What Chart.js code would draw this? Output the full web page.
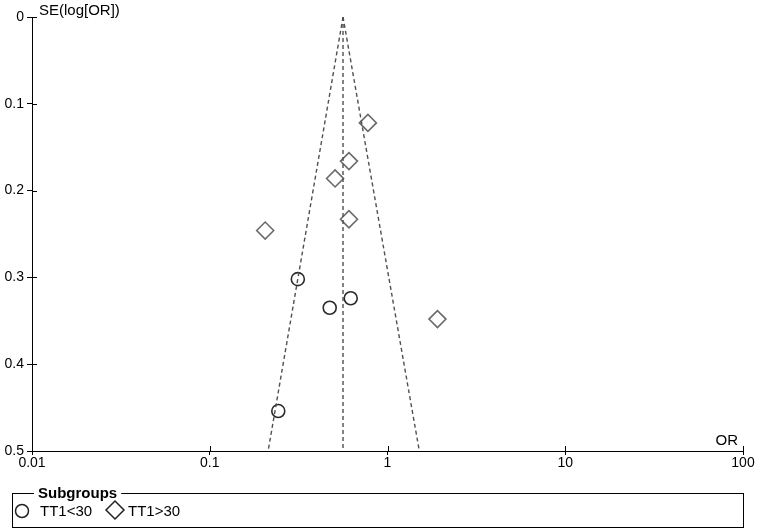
<!DOCTYPE html>
<html>
<head>
<meta charset="utf-8">
<script src="https://cdn.jsdelivr.net/npm/chart.js@4/dist/chart.umd.min.js"></script>
<style>
  body { margin: 0; background: #fff; }
  canvas { display: block; }
</style>
</head>
<body>
<canvas id="funnel" width="758" height="530"></canvas>
<script>
// values
var circleOR = [0.313, 0.473, 0.621, 0.243];
var circleSE = [0.302, 0.335, 0.324, 0.454];
var diamondOR = [0.776, 0.607, 0.507, 0.607, 0.205, 1.91];
var diamondSE = [0.122, 0.166, 0.186, 0.233, 0.246, 0.348];
var pooledOR = 0.562;
var funnelLowOR = 0.213;   // at SE 0.5
var funnelHighOR = 1.51;   // at SE 0.5
var xTicks = [0.01, 0.1, 1, 10, 100];
var yTicks = [0, 0.1, 0.2, 0.3, 0.4, 0.5];
var groupLabels = ['TT1<30', 'TT1>30'];

var FONT = '"Liberation Sans", Arial, sans-serif';
Chart.defaults.font.family = FONT;
Chart.defaults.font.size = 14;
Chart.defaults.color = '#000';

function pairs(xs, ys) {
  return xs.map(function (x, i) { return {x: x, y: ys[i]}; });
}

var dashed = {
  type: 'line', borderColor: '#505050', borderWidth: 1.4, borderDash: [4, 3],
  pointRadius: 0, fill: false, tension: 0
};

var extras = {
  id: 'extras',
  afterDraw: function (chart) {
    var ctx = chart.ctx, xs = chart.scales.x, ys = chart.scales.y;
    var a = chart.chartArea;
    ctx.save();
    // inner half of the crossing ticks
    ctx.strokeStyle = '#000';
    ctx.lineWidth = 1;
    ctx.beginPath();
    xTicks.forEach(function (v) {
      var px = Math.round(xs.getPixelForValue(v)) + 0.5;
      ctx.moveTo(px, a.bottom);
      ctx.lineTo(px, a.bottom - 5);
    });
    yTicks.forEach(function (v) {
      var py = Math.round(ys.getPixelForValue(v)) + 0.5;
      ctx.moveTo(a.left, py);
      ctx.lineTo(a.left + 5, py);
    });
    ctx.stroke();

    // axis titles
    ctx.fillStyle = '#000';
    ctx.font = '15px ' + FONT;
    ctx.textBaseline = 'alphabetic';
    ctx.textAlign = 'left';
    ctx.fillText('SE(log[OR])', a.left + 7, 15);
    ctx.textAlign = 'right';
    ctx.fillText('OR', a.right - 5, a.bottom - 6);

    // legend box
    var bx = 12.5, by = 493.5, bw = 731, bh = 34;
    ctx.strokeStyle = '#000';
    ctx.strokeRect(bx, by, bw, bh);
    ctx.font = 'bold 15px ' + FONT;
    ctx.textAlign = 'left';
    ctx.textBaseline = 'middle';
    var t = 'Subgroups';
    var tw = ctx.measureText(t).width;
    ctx.fillStyle = '#fff';
    ctx.fillRect(34, by - 3, tw + 8, 6);
    ctx.fillStyle = '#000';
    ctx.fillText(t, 38, by);

    ctx.font = '15px ' + FONT;
    ctx.lineWidth = 1.5;
    ctx.strokeStyle = '#222';
    // circle item
    ctx.beginPath();
    ctx.arc(22, 511, 6.5, 0, Math.PI * 2);
    ctx.stroke();
    ctx.fillText(groupLabels[0], 40, 512);
    // diamond item
    var dx = 115, dy = 510, r = 9;
    ctx.beginPath();
    ctx.moveTo(dx - r, dy); ctx.lineTo(dx, dy - r);
    ctx.lineTo(dx + r, dy); ctx.lineTo(dx, dy + r);
    ctx.closePath();
    ctx.stroke();
    ctx.fillText(groupLabels[1], 128, 512);
    ctx.restore();
  }
};

var funnelConfig = {
  type: 'scatter',
  data: {
    datasets: [
      Object.assign({}, dashed, {data: [{x: pooledOR, y: 0}, {x: pooledOR, y: 0.5}]}),
      Object.assign({}, dashed, {data: [{x: pooledOR, y: 0}, {x: funnelLowOR, y: 0.5}]}),
      Object.assign({}, dashed, {data: [{x: pooledOR, y: 0}, {x: funnelHighOR, y: 0.5}]}),
      {
        label: groupLabels[0],
        data: pairs(circleOR, circleSE),
        pointStyle: 'circle', pointRadius: 6.5,
        borderColor: '#2a2a2a', borderWidth: 1.6, backgroundColor: 'rgba(0,0,0,0)'
      },
      {
        label: groupLabels[1],
        data: pairs(diamondOR, diamondSE),
        pointStyle: 'rectRot', pointRadius: 8.5,
        borderColor: '#6a6a6a', borderWidth: 1.6, backgroundColor: 'rgba(0,0,0,0)'
      }
    ]
  },
  options: {
    responsive: false,
    animation: false,
    layout: {padding: {left: 0, top: 17, right: 15, bottom: 49}},
    plugins: {legend: {display: false}, tooltip: {enabled: false}},
    scales: {
      x: {
        type: 'logarithmic', min: 0.01, max: 100,
        afterBuildTicks: function (s) { s.ticks = xTicks.map(function (v) { return {value: v}; }); },
        afterFit: function (s) { s.height = 30; },
        ticks: {padding: 0, autoSkip: false, maxRotation: 0, callback: function (v) { return String(v); }},
        grid: {drawOnChartArea: false, tickLength: 4, color: '#000'},
        border: {color: '#000', width: 1}
      },
      y: {
        type: 'linear', reverse: true, min: 0, max: 0.5,
        afterBuildTicks: function (s) { s.ticks = yTicks.map(function (v) { return {value: v}; }); },
        afterFit: function (s) { s.width = 32; },
        ticks: {padding: 3, autoSkip: false, callback: function (v) { return v === 0 ? '0' : v.toFixed(1); }},
        grid: {drawOnChartArea: false, tickLength: 5, color: '#000'},
        border: {color: '#000', width: 1}
      }
    }
  },
  plugins: [extras]
};

window.onload = function () {
  var ctx = document.getElementById('funnel').getContext('2d');
  window.funnelChart = new Chart(ctx, funnelConfig);
};
</script>
</body>
</html>
